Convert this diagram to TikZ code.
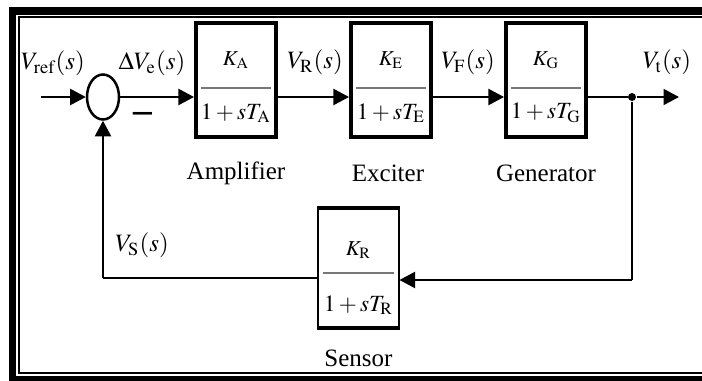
\documentclass[tikz,border=0pt]{standalone}
\usepackage{mathptmx}
\usepackage[no-math]{fontspec}
\setmainfont{Liberation Serif}
\usetikzlibrary{arrows.meta,shapes.geometric}

\begin{document}
\begin{tikzpicture}[x=0.4pt,y=-0.4pt,
    block/.style={draw,line width=1.6pt,minimum width=32pt,minimum height=45.6pt,inner sep=0pt},
    wire/.style={line width=0.8pt},
    sig/.style={wire,-{Triangle[length=6.2pt,width=6.4pt]}},
    frac/.style={line width=0.6pt,color={rgb,255:red,120; green,120; blue,120}},
    lbl/.style={inner sep=0pt,font=\fontsize{10}{12}\selectfont},
    num/.style={inner sep=0pt,font=\fontsize{8.5}{10}\selectfont},
    den/.style={inner sep=0pt,font=\fontsize{9.3}{11}\selectfont}]
    \useasboundingbox (0,0) rectangle (702,381);

    % frame
    \draw[line width=3pt] (712,11) -- (12.5,11) -- (12.5,379.5) -- (712,379.5);
    \draw[line width=0.9pt] (712,17.3) -- (18.8,17.3) -- (18.8,373) -- (712,373);

    % summing point
    \coordinate (in) at (41,97);
    \node[draw,ellipse,line width=1pt,minimum width=12.8pt,minimum height=18pt,inner sep=0pt] (sum) at (103,97) {};
    \node[lbl] (vref) at (53,63) {$V_{\mathrm{ref}}(s)$};
    \node[lbl] (dve) at (152,63) {$\Delta V_{\mathrm e}(s)$};
    \node[inner sep=0pt,font=\bfseries\fontsize{15}{15}\selectfont] (minus) at (143,117) {--};

    %#1
    \node[block] (amp) at (236,80) {};
    \node[num] (ampK) at (236,60) {$K_{\mathrm A}$};
    \node[den] (ampT) at (236,113) {$1+sT_{\mathrm A}$};
    \draw[frac] (amp.west) ++(2.8pt,-3.2pt) -- ++(28pt,0);
    \node[lbl] (ampL) at (236,173) {Amplifier};
    \node[lbl] (vr) at (315,62) {$V_{\mathrm R}(s)$};

    %#2
    \node[block] (exc) at (391,80) {};
    \node[num] (excK) at (391,60) {$K_{\mathrm E}$};
    \node[den] (excT) at (391,113) {$1+sT_{\mathrm E}$};
    \draw[frac] (exc.west) ++(2.8pt,-3.2pt) -- ++(28pt,0);
    \node[lbl] (excL) at (388,173) {Exciter};
    \node[lbl] (vf) at (468,62) {$V_{\mathrm F}(s)$};

    %#3
    \node[block] (gen) at (546,80) {};
    \node[num] (genK) at (546,60) {$K_{\mathrm G}$};
    \node[den] (genT) at (546,113) {$1+sT_{\mathrm G}$};
    \draw[frac] (gen.west) ++(2.8pt,-3.2pt) -- ++(28pt,0);
    \node[lbl] (genL) at (546,173) {Generator};
    \node[lbl] (vt) at (667,62) {$V_{\mathrm t}(s)$};
    \node[circle,fill,inner sep=0pt,minimum size=3.2pt] (br) at (632,97) {};
    \coordinate (out) at (679,97);

    %#4
    \node[block,line width=0.8pt,minimum height=47.2pt] (sen) at (358.5,268) {};
    \draw[line width=1.8pt] (sen.north west) -- (sen.north east);
    \draw[line width=1.8pt] (sen.south west) -- (sen.south east);
    \node[num] (senK) at (358.5,250) {$K_{\mathrm R}$};
    \node[den] (senT) at (358.5,305) {$1+sT_{\mathrm R}$};
    \draw[frac] (sen.west) ++(2.4pt,-2pt) -- ++(28pt,0);
    \node[lbl] (senL) at (358.5,358) {Sensor};
    \node[lbl] (vs) at (142,245) {$V_{\mathrm S}(s)$};
    \coordinate (fbl) at (103,278);
    \coordinate (fbr) at (632,280);

    % connections
    \draw[sig] (in) -- (sum.west);
    \draw[sig] (sum.east) -- (amp.west |- sum);
    \draw[sig] (amp.east |- sum) -- (exc.west |- sum);
    \draw[sig] (exc.east |- sum) -- (gen.west |- sum);
    \draw[wire] (gen.east |- sum) -- (br);
    \draw[sig] (br) -- (out);
    \draw[wire] (br) -- (fbr);
    \draw[sig] (fbr) -- (sen.east |- fbr);
    \draw[wire] (sen.west |- fbl) -- (fbl);
    \draw[sig] (fbl) -- (sum.south);
\end{tikzpicture}
\end{document}
